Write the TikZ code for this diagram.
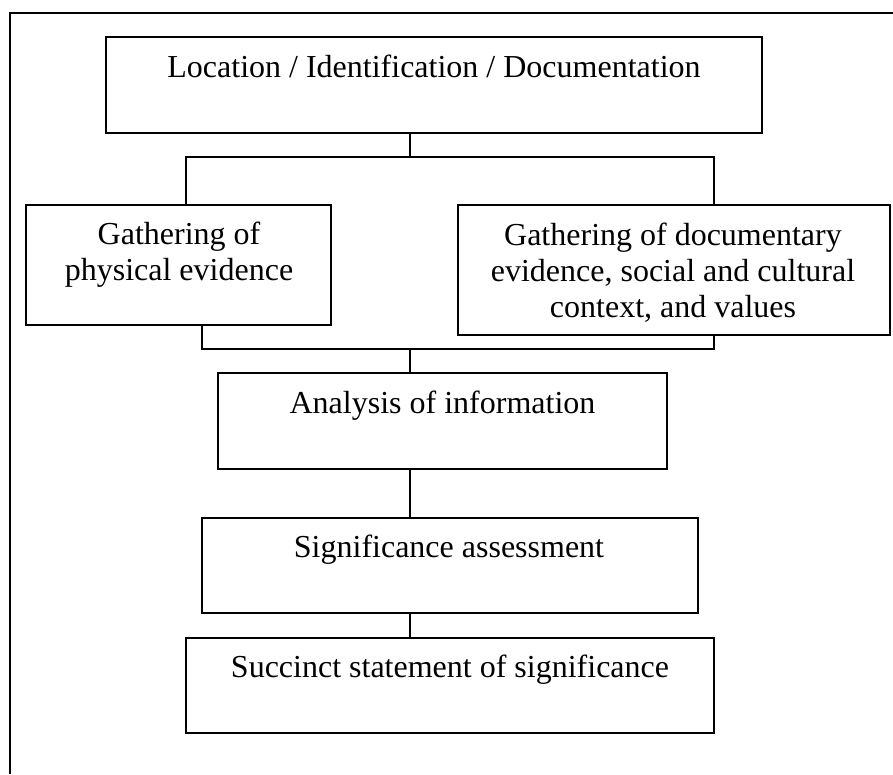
\documentclass[tikz,border=0pt]{standalone}
\usepackage{fontspec}
\setmainfont{Liberation Serif}
\begin{document}
\begin{tikzpicture}[x=1pt,y=-1pt,
  box/.style={draw, line width=1.8pt, rectangle, inner sep=0pt},
  txt/.style={font=\fontsize{32}{36}\selectfont, align=center, anchor=base, inner sep=0pt},
  conn/.style={line width=1.8pt},
  frame/.style={line width=2.2pt}]
\useasboundingbox (0,0) rectangle (893,774);
% frame (top and left only visible)
\coordinate (f0) at (10,13);
\coordinate (f1) at (893,13);
\coordinate (f2) at (10,774);
\draw[frame] (f1) -- (f0) -- (f2);
% boxes
\node[box, minimum width=656pt, minimum height=96pt] (top) at (434,85) {};
\node[box, minimum width=305pt, minimum height=120pt] (left) at (178.5,265) {};
\node[box, minimum width=432pt, minimum height=130pt] (right) at (674,270) {};
\node[box, minimum width=449pt, minimum height=96pt] (ana) at (442.5,421) {};
\node[box, minimum width=496pt, minimum height=95pt] (sig) at (450,565.5) {};
\node[box, minimum width=528pt, minimum height=95pt] (suc) at (450,685.5) {};
% texts (base anchor = baseline of last line)
\node[txt] (ttop) at (434,77) {Location / Identification / Documentation};
\node[txt] (tleft) at (179,280) {Gathering of\\physical evidence};
\node[txt] (tright) at (673,317) {Gathering of documentary\\evidence, social and cultural\\context, and values};
\node[txt] (tana) at (442.5,413) {Analysis of information};
\node[txt] (tsig) at (449,557) {Significance assessment};
\node[txt] (tsuc) at (450,677) {Succinct statement of significance};
% junctions
\coordinate (ja) at (410,157);
\coordinate (jal) at (186,157);
\coordinate (jar) at (714,157);
\coordinate (jb) at (410,349);
\coordinate (jbl) at (202,349);
\coordinate (jbr) at (714,349);
% connectors
\draw[conn] (top.south -| ja) -- (ja);
\draw[conn] (left.north -| jal) -- (jal) -- (jar) -- (right.north -| jar);
\draw[conn] (left.south -| jbl) -- (jbl) -- (jbr) -- (right.south -| jbr);
\draw[conn] (jb) -- (ana.north -| jb);
\draw[conn] (ana.south -| jb) -- (sig.north -| jb);
\draw[conn] (sig.south -| jb) -- (suc.north -| jb);
\end{tikzpicture}
\end{document}
